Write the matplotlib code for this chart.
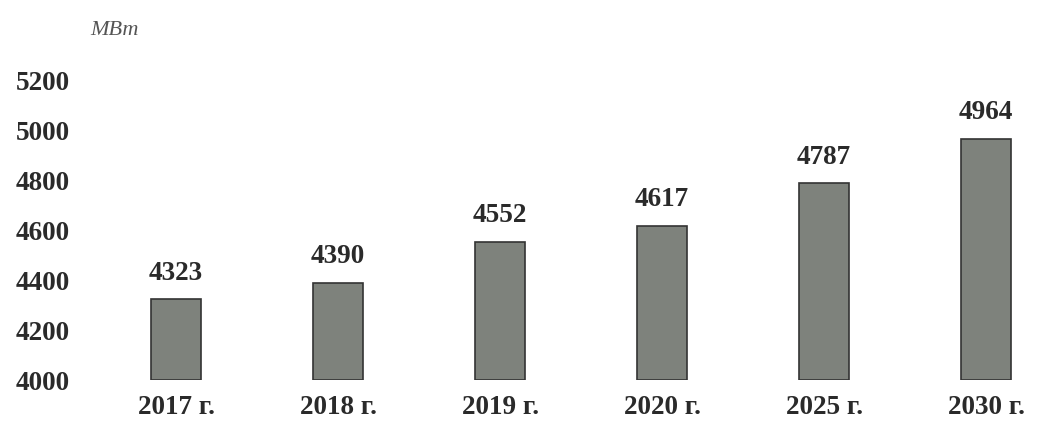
import matplotlib.pyplot as plt

# Data
years = ['2017 г.', '2018 г.', '2019 г.', '2020 г.', '2025 г.', '2030 г.']
power_mw = [4323, 4390, 4552, 4617, 4787, 4964]
y_ticks = [4000, 4200, 4400, 4600, 4800, 5000, 5200]

plt.rcParams['font.family'] = ['Liberation Serif', 'DejaVu Serif']

fig = plt.figure(figsize=(10.38, 4.30), dpi=100)
ax = fig.add_axes([0.077, 0.116, 0.923, 0.744])

x = list(range(len(years)))
ax.bar(x, [v - 4000 for v in power_mw], bottom=4000, width=0.31,
       color='#7e827c', edgecolor='#333333', linewidth=1.2)

for xi, v in zip(x, power_mw):
    ax.annotate(f'{v}', xy=(xi, v), xytext=(0, 10), textcoords='offset points',
                ha='center', va='bottom', fontsize=19.5, fontweight='bold',
                color='#2a2a2a')

ax.set_xlim(-0.593, 5.32)
ax.set_ylim(4000, 5280)
ax.set_yticks(y_ticks)
ax.set_yticklabels([str(t) for t in y_ticks], fontsize=19.5, fontweight='bold',
                   color='#2a2a2a')
ax.set_xticks(x)
ax.set_xticklabels(years, fontsize=19.5, fontweight='bold', color='#2a2a2a')
ax.tick_params(axis='y', length=0, pad=7)
ax.tick_params(axis='x', length=0, pad=11)

for s in ax.spines.values():
    s.set_visible(False)

fig.text(0.087, 0.928, 'МВт', fontsize=16, fontstyle='italic', color='#555555',
         ha='left', va='center')

fig.savefig('out.png', dpi=100)
